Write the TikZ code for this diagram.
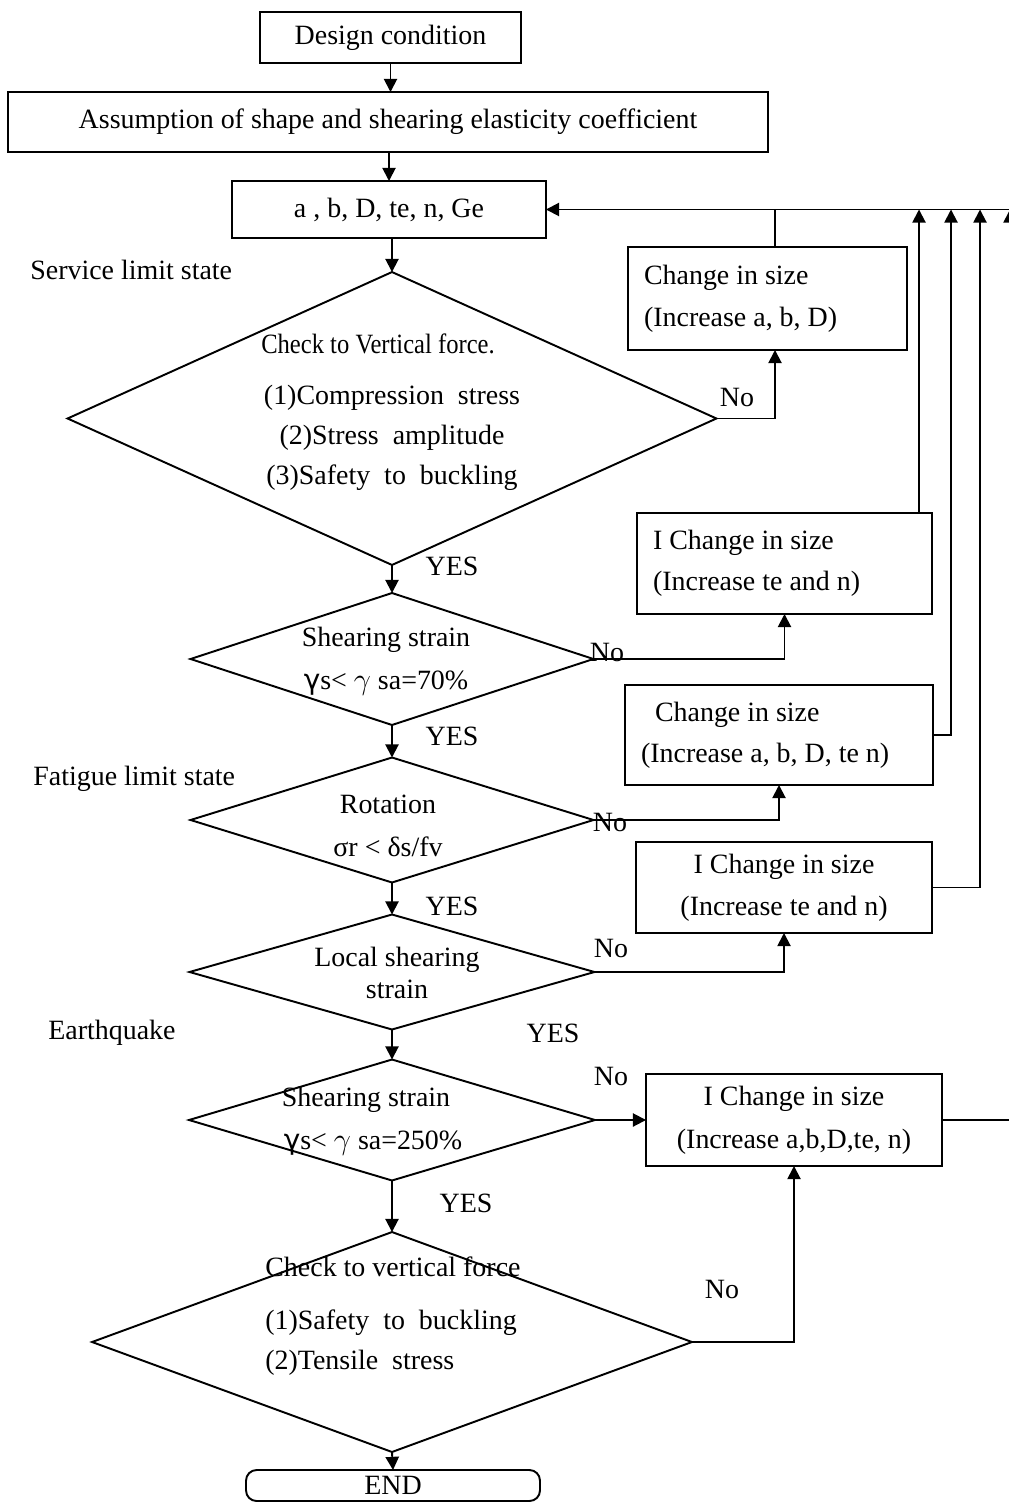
\documentclass[tikz,border=0pt]{standalone}
\usepackage{fontspec}
\usepackage{graphicx}
\setmainfont{Liberation Serif}
\newfontfamily\gsans{DejaVu Sans}
\usetikzlibrary{shapes.geometric,arrows.meta}

\tikzset{
  box/.style={draw, rectangle, line width=1.1pt, inner sep=0pt, outer sep=0pt},
  dia/.style={draw, diamond, line width=1.1pt, inner sep=0pt, outer sep=0pt},
  arr/.style={line width=1.1pt, -{Triangle[length=7.5pt,width=7.5pt]}},
  ln/.style={line width=1.1pt},
  txt/.style={inner sep=0pt, align=center},
  lbl/.style={inner sep=0pt}
}

\begin{document}
\begin{tikzpicture}[x=0.02cm, y=-0.02cm, font=\fontsize{15.9}{22.7}\selectfont]
\path[fill=white, use as bounding box] (0,0) rectangle (1008,1503);

% main column
\node[box, minimum width=5.22cm, minimum height=1.02cm] (design) at (390.5,37.5) {Design condition};
\node[box, minimum width=15.2cm, minimum height=1.2cm] (assume) at (388,122) {Assumption of shape and shearing elasticity coefficient};
\node[box, minimum width=6.28cm, minimum height=1.14cm] (param) at (389,209.5) {a , b, D, te, n, Ge};

\node[dia, minimum width=12.98cm, minimum height=5.86cm] (d1) at (392,418.5) {};
\node[dia, minimum width=8.06cm, minimum height=2.64cm] (d2) at (392,659) {};
\node[dia, minimum width=8.06cm, minimum height=2.5cm] (d3) at (392,820) {};
\node[dia, minimum width=8.1cm, minimum height=2.3cm] (d4) at (392,972) {};
\node[dia, minimum width=8.12cm, minimum height=2.42cm] (d5) at (392,1120) {};
\node[dia, minimum width=12.0cm, minimum height=4.4cm] (d6) at (392,1342) {};
\node[box, rounded corners=6pt, minimum width=5.88cm, minimum height=0.62cm] (end) at (393,1485.5) {END};

% diamond texts
\node[txt] (d1t) at (392,412) {\hspace*{-0.56cm}\scalebox{0.88}[1]{Check to Vertical force.}\\[6.2pt](1)Compression~~stress\\(2)Stress~~amplitude\\(3)Safety~~to~~buckling};
\node[txt] (d2t) at (386,661.5) {Shearing strain\\[1.7pt]{\gsans γ}s< $\gamma$ sa=70\%};
\node[txt] (d3t) at (388,825.5) {Rotation\\[1.7pt]σr < δs/fv};
\node[txt] (d4t) at (397,973) {Local shearing\\[-4.6pt]strain};
\node[txt] (d5t) at (373,1121.5) {\hspace*{-0.28cm}Shearing strain\\[1.7pt]{\gsans γ}s< $\gamma$ sa=250\%};
\node[txt, align=left, anchor=west] (d6t) at (265,1316) {Check to vertical force\\[7.4pt](1)Safety~~to~~buckling\\(2)Tensile~~stress};

% change boxes
\node[box, minimum width=5.58cm, minimum height=2.06cm, text width=4.94cm, align=flush left] (chgA) at (767.5,298.5) {Change in size\\[1.1pt](Increase a, b, D)};
\node[box, minimum width=5.9cm, minimum height=2.02cm, text width=5.26cm, align=flush left] (chgB) at (784.5,563.5) {I Change in size\\[0.5pt](Increase te and n)};
\node[box, minimum width=6.16cm, minimum height=2.0cm, text width=5.52cm, align=flush left] (chgC) at (779,735) {\hspace*{0.28cm}Change in size\\[0.5pt](Increase a, b, D, te n)};
\node[box, minimum width=5.92cm, minimum height=1.82cm, align=center] (chgD) at (784,887.5) {I Change in size\\[1.1pt](Increase te and n)};
\node[box, minimum width=5.92cm, minimum height=1.84cm, align=center] (chgE) at (794,1120) {I Change in size\\[1.7pt](Increase a,b,D,te, n)};

% side labels
\node[lbl, anchor=west] (svc) at (30,270) {Service limit state};
\node[lbl, anchor=west] (fat) at (33,779) {Fatigue limit state};
\node[lbl, anchor=west] (eq) at (48,1033) {Earthquake};

\node[lbl] (no1) at (737,397) {No};
\node[lbl] (no2) at (607,652) {No};
\node[lbl] (no3) at (610,822) {No};
\node[lbl] (no4) at (611,948) {No};
\node[lbl] (no5) at (611,1076) {No};
\node[lbl] (no6) at (722,1289) {No};

\node[lbl] (yes1) at (452,566) {YES};
\node[lbl] (yes2) at (452,736) {YES};
\node[lbl] (yes3) at (452,906) {YES};
\node[lbl] (yes4) at (553,1033) {YES};
\node[lbl] (yes5) at (466,1203) {YES};

% feedback line
\coordinate (fbA) at (775,209.5);
\coordinate (fbB) at (919,209.5);
\coordinate (fbC) at (951,209.5);
\coordinate (fbD) at (980,209.5);
\coordinate (fbE) at (1010,209.5);
\coordinate (fbR) at (1012,209.5);

% arrows down the column
\draw[arr] (design.south) -- (design.south |- assume.north);
\draw[arr] (param.north |- assume.south) -- (param.north);
\draw[arr] (d1.north |- param.south) -- (d1.north);
\draw[arr] (d1.south) -- (d2.north);
\draw[arr] (d2.south) -- (d3.north);
\draw[arr] (d3.south) -- (d4.north);
\draw[arr] (d4.south) -- (d5.north);
\draw[arr] (d5.south) -- (d6.north);
\draw[arr] (d6.south) -- (end.north);

% no branches
\draw[arr] (d1.east) -| (chgA.south -| fbA);
\draw[arr] (d2.east) -| (chgB.south);
\draw[arr] (d3.east) -| (chgC.south);
\draw[arr] (d4.east) -| (chgD.south);
\draw[arr] (d5.east) -- (chgE.west);
\draw[arr] (d6.east) -| (chgE.south);

% back to a, b, D ...
\draw[ln] (chgA.north -| fbA) -- (fbA);
\draw[arr] (chgB.north -| fbB) -- (fbB);
\draw[arr] (chgC.east) -| (fbC);
\draw[arr] (chgD.east) -| (fbD);
\draw[arr] (chgE.east) -| (fbE);
\draw[arr] (fbR) -- (param.east);
\end{tikzpicture}
\end{document}
